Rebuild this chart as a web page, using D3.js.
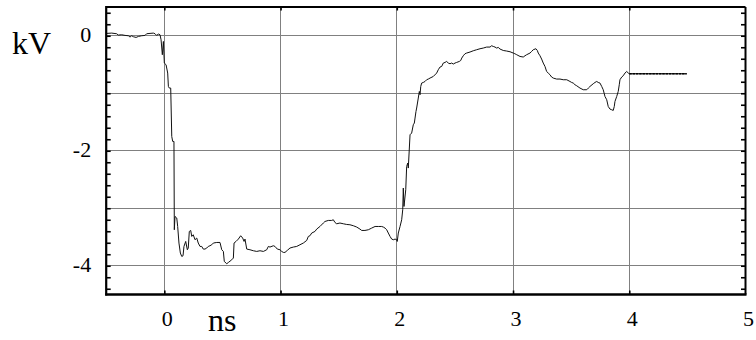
<!DOCTYPE html>
<html>
<head>
<meta charset="utf-8">
<script src="https://cdn.jsdelivr.net/npm/d3@7"></script>
<style>
  html, body { margin: 0; padding: 0; background: #fff; }
  svg { display: block; }
</style>
</head>
<body>
<svg id="chart" width="756" height="340"></svg>
<script>
// Pulse waveform: time in ns, voltage in kV
const timeNs = [
  -0.496,-0.453,-0.410,-0.396,-0.367,-0.338,-0.309,-0.295,-0.281,-0.266,
  -0.243,-0.223,-0.195,-0.166,-0.152,-0.123,-0.094,-0.080,-0.066,-0.051,
  -0.037,-0.028,-0.017,-0.008,0.000,0.015,0.029,0.035,0.043,0.055,
  0.064,0.072,0.083,0.086,0.092,0.107,0.115,0.126,0.138,0.150,
  0.161,0.169,0.184,0.198,0.206,0.215,0.227,0.236,0.249,0.264,
  0.279,0.292,0.307,0.322,0.335,0.350,0.365,0.378,0.393,0.408,
  0.422,0.451,0.479,0.494,0.508,0.516,0.537,0.551,0.580,0.594,
  0.600,0.617,0.637,0.657,0.674,0.686,0.694,0.709,0.737,0.766,
  0.795,0.823,0.852,0.881,0.895,0.909,0.938,0.952,0.972,0.995,
  1.010,1.024,1.038,1.058,1.081,1.110,1.139,1.167,1.196,1.225,
  1.239,1.253,1.268,1.296,1.311,1.339,1.368,1.382,1.411,1.440,
  1.454,1.468,1.483,1.511,1.540,1.569,1.597,1.626,1.655,1.683,
  1.698,1.726,1.755,1.784,1.813,1.841,1.870,1.884,1.899,1.913,
  1.927,1.942,1.956,1.970,1.985,1.999,2.004,2.013,2.028,2.042,
  2.051,2.056,2.062,2.077,2.085,2.094,2.099,2.114,2.128,2.142,
  2.151,2.157,2.165,2.171,2.185,2.194,2.200,2.206,2.214,2.228,
  2.243,2.257,2.271,2.286,2.314,2.343,2.357,2.372,2.386,2.400,
  2.415,2.429,2.443,2.458,2.472,2.486,2.501,2.515,2.538,2.550,
  2.559,2.572,2.587,2.601,2.630,2.658,2.687,2.716,2.744,2.773,
  2.802,2.816,2.830,2.845,2.859,2.873,2.888,2.916,2.945,2.974,
  3.002,3.016,3.032,3.060,3.088,3.103,3.117,3.146,3.160,3.174,
  3.197,3.209,3.217,3.232,3.246,3.260,3.275,3.289,3.303,3.318,
  3.332,3.346,3.375,3.404,3.432,3.462,3.490,3.504,3.518,3.533,
  3.548,3.576,3.604,3.634,3.648,3.662,3.690,3.705,3.720,3.733,
  3.748,3.763,3.776,3.791,3.806,3.819,3.834,3.849,3.862,3.871,
  3.877,3.892,3.905,3.914,3.920,3.935,3.948,3.963,3.978,3.992,
  4.000,4.494
];
const voltageKv = [
  0.041,0.046,0.035,0.012,0.017,0.006,0.000,-0.023,0.000,-0.017,
  -0.029,-0.012,0.000,0.006,0.035,0.041,0.046,0.035,0.006,0.029,
  0.017,-0.070,-0.330,-0.099,-0.475,-0.504,-0.649,-0.881,-0.910,-0.910,
  -1.751,-1.838,-1.838,-3.374,-3.143,-3.170,-3.317,-3.605,-3.779,-3.838,
  -3.826,-3.664,-3.577,-3.722,-3.692,-3.403,-3.386,-3.490,-3.461,-3.548,
  -3.518,-3.605,-3.664,-3.664,-3.710,-3.710,-3.692,-3.664,-3.652,-3.635,
  -3.605,-3.595,-3.595,-3.722,-3.751,-3.925,-3.965,-3.943,-3.896,-3.866,
  -3.605,-3.577,-3.536,-3.478,-3.518,-3.577,-3.536,-3.710,-3.722,-3.739,
  -3.751,-3.739,-3.751,-3.722,-3.664,-3.675,-3.652,-3.664,-3.710,-3.722,
  -3.751,-3.768,-3.768,-3.733,-3.692,-3.675,-3.664,-3.635,-3.605,-3.560,
  -3.490,-3.478,-3.431,-3.403,-3.362,-3.317,-3.257,-3.230,-3.212,-3.212,
  -3.200,-3.247,-3.270,-3.257,-3.270,-3.282,-3.287,-3.304,-3.327,-3.362,
  -3.386,-3.386,-3.374,-3.345,-3.317,-3.317,-3.317,-3.327,-3.345,-3.374,
  -3.431,-3.490,-3.536,-3.548,-3.536,-3.548,-3.577,-3.431,-3.317,-3.200,
  -3.026,-2.649,-2.969,-2.678,-2.273,-2.214,-2.301,-1.722,-1.692,-1.548,
  -1.518,-1.431,-1.317,-1.257,-1.083,-0.969,-1.026,-0.882,-0.823,-0.812,
  -0.795,-0.765,-0.753,-0.736,-0.708,-0.649,-0.591,-0.544,-0.534,-0.475,
  -0.464,-0.447,-0.475,-0.487,-0.475,-0.492,-0.475,-0.464,-0.447,-0.430,
  -0.388,-0.348,-0.313,-0.301,-0.283,-0.261,-0.243,-0.226,-0.214,-0.197,
  -0.197,-0.174,-0.186,-0.197,-0.214,-0.203,-0.231,-0.256,-0.266,-0.278,
  -0.301,-0.313,-0.330,-0.360,-0.370,-0.348,-0.330,-0.301,-0.273,-0.243,
  -0.226,-0.256,-0.301,-0.348,-0.405,-0.475,-0.534,-0.621,-0.649,-0.678,
  -0.718,-0.736,-0.753,-0.753,-0.765,-0.765,-0.795,-0.812,-0.823,-0.852,
  -0.870,-0.910,-0.939,-0.939,-0.910,-0.882,-0.835,-0.812,-0.795,-0.812,
  -0.823,-0.882,-0.939,-1.056,-1.113,-1.230,-1.275,-1.287,-1.299,-1.230,
  -1.143,-1.056,-0.969,-0.852,-0.765,-0.718,-0.696,-0.649,-0.621,-0.649,
  -0.661,-0.661
];

// Axis setup
const xDomain = [-0.5, 5];
const yDomain = [0.5, -4.5];
const xGrid = [0, 1, 2, 3, 4];
const yGrid = [0, -1, -2, -3, -4];
const xTickLabels = [0, 1, 2, 3, 4, 5];
const yTickLabels = [0, -2, -4];
const yMinorTicks = d3.range(0, 25).map(i => +(0.4 - i * 0.2).toFixed(1));
const holdStart = 4.0;   // recording holds its last value from here on

const svg = d3.select("#chart");
const plotLeft = 106.2, plotRight = 745.5, plotTop = 7, plotBottom = 294.5;

const x = d3.scaleLinear().domain(xDomain).range([plotLeft, plotRight]);
const y = d3.scaleLinear().domain(yDomain).range([plotTop, plotBottom]);

const serif = "'Liberation Serif', 'Times New Roman', serif";
const plainNumber = d => String(d);   // ASCII hyphen for negatives

// grid
const grid = svg.append("g").attr("stroke", "#808080").attr("stroke-width", 1)
  .attr("shape-rendering", "crispEdges");
grid.selectAll("line.v").data(xGrid).join("line").attr("class", "v")
  .attr("x1", d => x(d)).attr("x2", d => x(d)).attr("y1", plotTop).attr("y2", plotBottom);
grid.selectAll("line.h").data(yGrid).join("line").attr("class", "h")
  .attr("x1", plotLeft).attr("x2", plotRight).attr("y1", d => y(d)).attr("y2", d => y(d));

// inward tick marks on all four sides
function tickStyle(g) {
  g.select(".domain").remove();
  g.selectAll(".tick line").attr("stroke", "#000").attr("stroke-width", 1.6);
  g.selectAll(".tick text").remove();
}
svg.append("g").attr("transform", `translate(${plotLeft},0)`)
  .call(d3.axisRight(y).tickValues(yMinorTicks).tickSize(4.5).tickFormat(""))
  .call(tickStyle);
svg.append("g").attr("transform", `translate(${plotRight},0)`)
  .call(d3.axisLeft(y).tickValues(yMinorTicks).tickSize(4.5).tickFormat(""))
  .call(tickStyle);
svg.append("g").attr("transform", `translate(0,${plotBottom})`)
  .call(d3.axisTop(x).tickValues(xGrid).tickSize(4).tickFormat(""))
  .call(tickStyle);
svg.append("g").attr("transform", `translate(0,${plotTop})`)
  .call(d3.axisBottom(x).tickValues(xGrid).tickSize(3.5).tickFormat(""))
  .call(tickStyle);

// waveform
const pts = timeNs.map((t, i) => [t, voltageKv[i]]);
const line = d3.line().x(d => x(d[0])).y(d => y(d[1]));
svg.append("path").datum(pts)
  .attr("fill", "none").attr("stroke", "#111").attr("stroke-width", 1)
  .attr("stroke-linejoin", "round")
  .attr("d", line);
svg.append("path").datum(pts.filter(d => d[0] >= holdStart))
  .attr("fill", "none").attr("stroke", "#000").attr("stroke-width", 1.6)
  .attr("stroke-dasharray", "2.5,0.8")
  .attr("d", line);

// frame
const frame = svg.append("g").attr("stroke", "#000");
frame.append("line").attr("x1", plotLeft).attr("x2", plotRight).attr("y1", plotTop).attr("y2", plotTop).attr("stroke-width", 2);
frame.append("line").attr("x1", plotRight).attr("x2", plotRight).attr("y1", plotTop).attr("y2", plotBottom).attr("stroke-width", 2);
frame.append("line").attr("x1", plotLeft).attr("x2", plotLeft).attr("y1", plotTop - 1).attr("y2", plotBottom + 1).attr("stroke-width", 2.2);
frame.append("line").attr("x1", plotLeft - 1).attr("x2", plotRight + 1).attr("y1", plotBottom).attr("y2", plotBottom).attr("stroke-width", 2.6);

// tick labels
const yAxis = svg.append("g").attr("transform", `translate(${plotLeft},0)`)
  .call(d3.axisLeft(y).tickValues(yTickLabels).tickSize(0).tickPadding(15).tickFormat(plainNumber));
yAxis.select(".domain").remove();
yAxis.selectAll("text").attr("font-family", serif).attr("font-size", 22)
  .attr("fill", "#000").attr("dy", "0.25em");

const xAxis = svg.append("g").attr("transform", `translate(0,${plotBottom})`)
  .call(d3.axisBottom(x).tickValues(xTickLabels).tickSize(0).tickPadding(16).tickFormat(plainNumber));
xAxis.select(".domain").remove();
xAxis.selectAll("text").attr("font-family", serif).attr("font-size", 22)
  .attr("fill", "#000").attr("dx", 2.5);

// unit labels
svg.append("text").attr("x", 12).attr("y", 54)
  .attr("font-family", serif).attr("font-size", 32).attr("fill", "#000").text("kV");
svg.append("text").attr("x", 208).attr("y", 331)
  .attr("font-family", serif).attr("font-size", 32).attr("fill", "#000").text("ns");
</script>
</body>
</html>
